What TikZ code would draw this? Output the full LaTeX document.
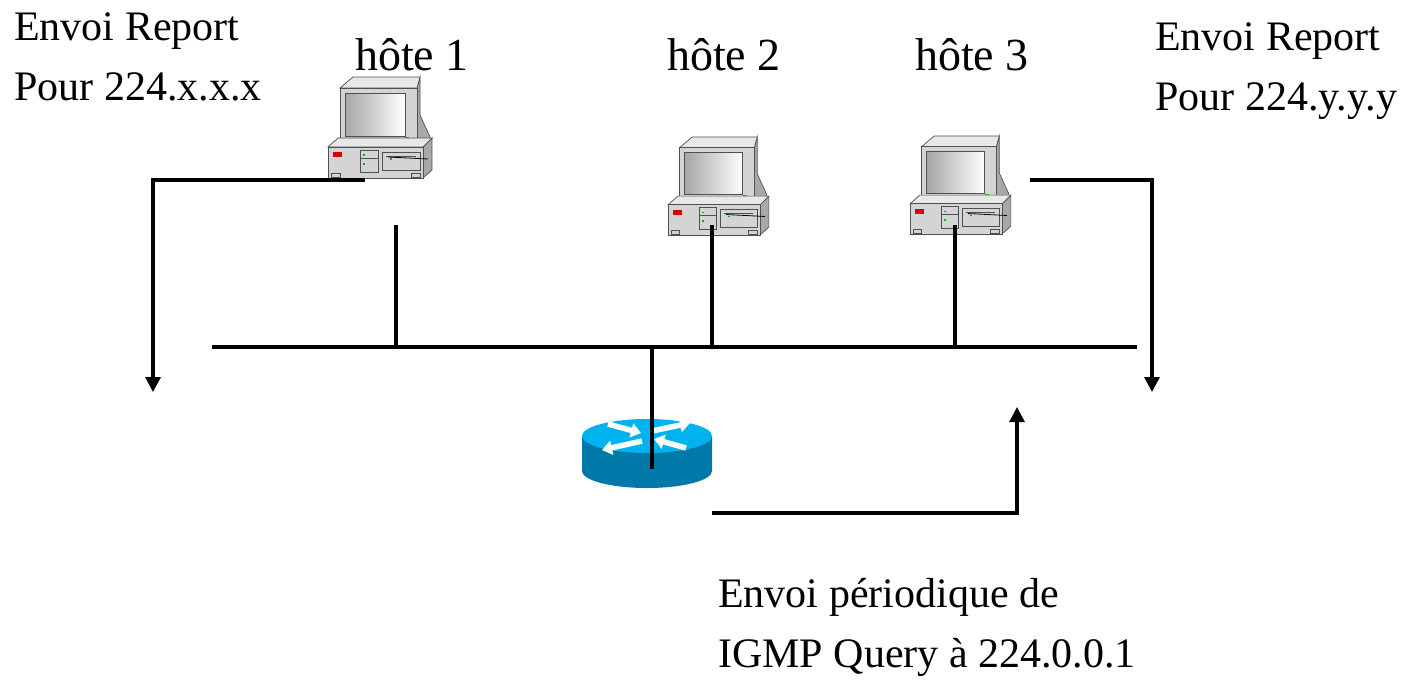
\documentclass[tikz,border=0pt]{standalone}
\usepackage{fontspec}
\setmainfont{Liberation Serif}
\usetikzlibrary{arrows.meta}

\definecolor{bodygray}{HTML}{D4D4D4}
\definecolor{topgray}{HTML}{E8E8E8}
\definecolor{sidegray}{HTML}{A8A8A8}
\definecolor{edgegray}{HTML}{505050}
\definecolor{routertop}{HTML}{00B2EE}
\definecolor{routerside}{HTML}{0079A8}

\tikzset{
  wire/.style={line width=3.2pt, black},
  flow/.style={line width=3.2pt, black, -{Triangle[length=15pt,width=15pt]}},
  label/.style={font=\fontsize{42}{48}\selectfont, inner sep=0pt, anchor=base west},
  hostlabel/.style={font=\fontsize{46}{52}\selectfont, inner sep=0pt, anchor=base},
  pcpart/.style={draw=edgegray, line width=0.7pt},
  rarrow/.style={white, line width=5.5pt, -{Triangle[length=10pt,width=14pt]}},
}

% desktop computer icon, origin at its top-left corner
\newcommand{\pcicon}[3]{%
\begin{scope}[shift={(#1,#2)}, scale=#3]
  % monitor
  \fill[sidegray, pcpart] (89,13) -- (92,2) -- (92,40) -- (102,62) -- (102,68) -- (89,68) -- cycle;
  \fill[topgray, pcpart] (12,13) -- (25,2) -- (92,2) -- (89,13) -- cycle;
  \fill[bodygray, pcpart] (12,13) rectangle (89,68);
  \shade[left color=gray!70, right color=white, draw=edgegray, line width=0.6pt] (17,18) rectangle (77,61);
  \fill[green!80!black] (77,62) rectangle (81,65);
  % system unit
  \fill[topgray, pcpart] (0,72) -- (10,63) -- (104,63) -- (95,72) -- cycle;
  \fill[sidegray, pcpart] (95,72) -- (104,63) -- (104,95) -- (95,103) -- cycle;
  \fill[bodygray, pcpart] (0,72) rectangle (95,103);
  \fill[red!85!black] (5,77) rectangle (14,82);
  \draw[pcpart, fill=bodygray] (32,75) rectangle (50,97);
  \draw[pcpart] (32,83) -- (50,83);
  \fill[green!70!black] (35,79) rectangle (37,80.5);
  \fill[green!70!black] (35,88) rectangle (37,89.5);
  \draw[pcpart, fill=bodygray] (54,77) rectangle (92,95);
  \draw[pcpart] (58,81) -- (88,81);
  \draw[black, line width=0.8pt] (60,82) -- (100,84);
  \fill[green!70!black] (62,83) rectangle (64,84.5);
  \draw[pcpart, fill=bodygray] (3,98) rectangle (12,102);
  \draw[pcpart, fill=bodygray] (83,98) rectangle (92,102);
\end{scope}}

\begin{document}
\begin{tikzpicture}[x=1pt, y=-1pt]
\useasboundingbox (0,0) rectangle (1406,681);

% labels
\node[label] (repx1) at (14,40) {Envoi Report};
\node[label] (repx2) at (14,100) {Pour 224.x.x.x};
\node[label] (repy1) at (1155,50) {Envoi Report};
\node[label] (repy2) at (1155,110) {Pour 224.y.y.y};
\node[label] (query1) at (718,607) {Envoi périodique de};
\node[label] (query2) at (718,667) {IGMP Query à 224.0.0.1};
\node[hostlabel] (h1label) at (412,70) {hôte 1};
\node[hostlabel] (h2label) at (724,70) {hôte 2};
\node[hostlabel] (h3label) at (972,70) {hôte 3};

% hosts
\pcicon{328}{75}{1}
\pcicon{668}{135}{0.97}
\pcicon{910}{134}{0.97}

% router
\fill[routerside] (582,436) -- (582,471) arc[start angle=180, end angle=0, x radius=65, y radius=17] -- (712,436) -- cycle;
\fill[routertop] (647,436) ellipse[x radius=65, y radius=17];
\draw[rarrow] (608,424) -- (641,433);
\draw[rarrow] (686,448) -- (654,439);
\draw[rarrow] (652,431) -- (690,423);
\draw[rarrow] (642,441) -- (602,450);

% attachment points
\coordinate (busL) at (212,347);
\coordinate (busR) at (1137,347);
\coordinate (h1port) at (396,225);
\coordinate (h1tap) at (396,347);
\coordinate (h2port) at (712,225);
\coordinate (h2tap) at (712,347);
\coordinate (h3port) at (955,225);
\coordinate (h3tap) at (955,347);
\coordinate (rtap) at (652,347);
\coordinate (rport) at (652,469);

% report and query paths
\coordinate (repxstart) at (365,180);
\coordinate (repxcorner) at (153,180);
\coordinate (repxend) at (153,392);
\coordinate (repystart) at (1030,180);
\coordinate (repycorner) at (1152,180);
\coordinate (repyend) at (1152,392);
\coordinate (qstart) at (712,513);
\coordinate (qcorner) at (1017,513);
\coordinate (qend) at (1017,407);

% LAN segment
\draw[wire] (busL) -- (busR);
\draw[wire] (h1port) -- (h1tap);
\draw[wire] (h2port) -- (h2tap);
\draw[wire] (h3port) -- (h3tap);
\draw[wire] (rtap) -- (rport);

\draw[flow] (repxstart) -- (repxcorner) -- (repxend);
\draw[flow] (repystart) -- (repycorner) -- (repyend);
\draw[flow] (qstart) -- (qcorner) -- (qend);
\end{tikzpicture}
\end{document}
